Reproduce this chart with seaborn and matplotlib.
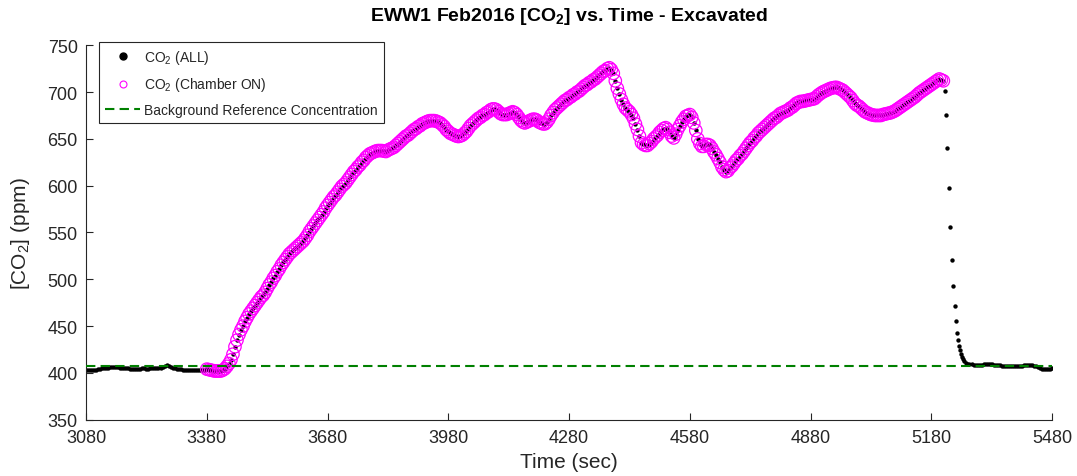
import matplotlib
matplotlib.use("Agg")
import matplotlib.pyplot as plt
import numpy as np
import pandas as pd
import seaborn as sns
from matplotlib.lines import Line2D

# ---- CO2 record (time in s, concentration in ppm) ----
# before the chamber is switched on (5 s samples from 3080 s)
pre_co2 = [403, 403, 403, 403, 403.5, 403.5, 404, 404.5, 405, 405,
           405.5, 405.5, 406, 406, 406, 406, 406, 405.5, 405.5, 405.5,
           405, 405, 404.5, 404.5, 404.5, 404.5, 404.5, 404.5, 405, 405,
           404.5, 404.5, 405, 405, 405, 405, 405.5, 405.5, 406.5, 407,
           408, 407.5, 406.5, 405.5, 405, 404.5, 404, 404, 403.5, 403.5,
           403.5, 403.5, 403, 403, 403, 403, 403, 403, 403.5, 403.5]

# chamber ON period (5 s samples from 3380 s)
on_co2 = [404, 403.5, 403, 402.5, 402, 402, 402, 402, 403, 404.5,
          407, 410, 414, 420, 428, 435, 441, 446, 450, 455,
          459, 463, 466, 469, 472, 475, 478, 481, 483, 486,
          490, 494, 497, 501, 504, 508, 511, 515, 518, 521,
          524, 527, 529, 531, 533, 535, 537, 539, 541, 544,
          547, 551, 554, 557, 560, 563, 566, 569, 572, 576,
          579, 582, 585, 588, 590, 593, 596, 599, 601, 603,
          606, 609, 612, 615, 617, 620, 622, 625, 627, 630,
          632, 634, 635, 636, 637, 637.5, 637.5, 637.5, 637, 636.5,
          638, 639, 640, 641, 643, 645, 647, 649, 651, 653,
          654, 656, 658, 660, 661, 663, 664, 666, 667, 668,
          669, 669.5, 669.5, 669.5, 669, 668, 667, 665, 663, 660,
          658, 656, 655, 654, 653, 652.5, 653, 654, 656, 658,
          661, 664, 666, 668, 670, 672, 673, 675, 676, 678,
          679, 681, 682, 682, 681, 679, 677, 676, 676, 676,
          677, 678, 679, 678, 676, 673, 670, 668, 667, 668,
          669, 670, 671, 671, 670, 668, 667, 666, 666, 668,
          671, 675, 678, 681, 683, 685, 687, 689, 691, 692,
          694, 695, 697, 698, 700, 701, 703, 705, 707, 708,
          710, 711, 713, 714, 716, 718, 720, 722, 723, 725,
          726, 724, 720, 712, 704, 698, 692, 687, 683, 681,
          679, 676, 672, 666, 660, 653, 646, 644, 643, 643,
          645, 647, 650, 652, 654, 657, 659, 661, 662, 660,
          657, 653, 651, 655, 660, 664, 668, 671, 674, 675,
          676, 673, 667, 659, 650, 645, 642, 642, 644, 644,
          643, 640, 636, 633, 629, 625, 620, 617, 615, 616,
          619, 621, 624, 627, 629, 632, 634, 637, 640, 643,
          646, 648, 651, 653, 656, 658, 660, 662, 664, 666,
          668, 670, 672, 673, 675, 677, 678, 679, 680, 681,
          683, 684, 686, 688, 689, 690, 690, 690.5, 691, 691.5,
          692, 692.5, 693, 695, 697, 698.5, 700, 701, 702, 703,
          704, 704.5, 705, 705, 704, 703, 702, 700, 698, 696,
          694, 691, 688, 686, 685, 683, 681, 679, 678, 677,
          676, 675.5, 675, 675, 675, 675, 676, 676.5, 677, 677.5,
          678, 679, 680, 681.5, 683, 684.5, 686, 687.5, 689, 690.5,
          692, 693.5, 695, 697, 699, 700.5, 702, 703.5, 705, 706.5,
          708, 709.5, 711, 712.5, 714, 713, 712]

# decay after the chamber is switched off
drop_time = [5213, 5216, 5220, 5223, 5227, 5231, 5234, 5238, 5241, 5245,
             5247, 5249, 5252, 5254, 5256, 5259, 5262, 5266, 5270, 5274]
drop_co2 = [701, 676, 640, 598, 556, 521, 493, 471, 455, 443,
            435, 429, 424, 420, 417, 415, 413, 411, 410, 409]

# back at background level (5 s samples from 5280 s)
post_co2 = [409, 408.5, 408.5, 408.5, 408.5, 408.5, 409, 409, 409.5, 409.5,
            409, 408.5, 408, 408, 408, 407.5, 407.5, 407.5, 407.5, 407,
            407, 407, 407, 407, 407.5, 407.5, 408, 408, 408.5, 408.5,
            408, 407.5, 407, 406, 405.5, 404.5, 404, 404, 404.5, 404.5,
            405]

pre_time = list(range(3080, 3080 + 5 * len(pre_co2), 5))
on_time = list(range(3380, 3380 + 5 * len(on_co2), 5))
post_time = list(range(5280, 5280 + 5 * len(post_co2), 5))

background_ppm = 407

x_ticks = [3080, 3380, 3680, 3980, 4280, 4580, 4880, 5180, 5480]
y_ticks = [350, 400, 450, 500, 550, 600, 650, 700, 750]

all_df = pd.DataFrame({
    "time": pre_time + on_time + drop_time + post_time,
    "co2": pre_co2 + on_co2 + drop_co2 + post_co2,
})
on_df = pd.DataFrame({"time": on_time, "co2": on_co2})

# ---- styling ----
sns.set_style("ticks")
plt.rcParams["font.family"] = ["Liberation Sans", "DejaVu Sans"]
plt.rcParams["mathtext.fontset"] = "custom"
plt.rcParams["mathtext.rm"] = "Liberation Sans"
plt.rcParams["mathtext.it"] = "Liberation Sans:italic"
plt.rcParams["mathtext.bf"] = "Liberation Sans:bold"

axis_col = "#262626"
magenta = "#ff00ff"
green = "#008000"
dash = (0, (4.5, 2.5))

fig, ax = plt.subplots(figsize=(10.77, 4.77), dpi=100)
fig.subplots_adjust(left=0.0799, right=0.9768, bottom=0.118, top=0.903)

sns.scatterplot(data=all_df, x="time", y="co2", color="black", s=10,
                linewidth=0, ax=ax, zorder=2, legend=False)
sns.scatterplot(data=on_df, x="time", y="co2", marker="o", s=80,
                linewidth=0.9, ax=ax, zorder=3, legend=False)
on_coll = ax.collections[-1]
on_coll.set_facecolor("none")
on_coll.set_edgecolor(magenta)

ax.axhline(background_ppm, color=green, lw=1.5, ls=dash, zorder=4)

ax.set_xlim(x_ticks[0], x_ticks[-1])
ax.set_ylim(y_ticks[0], y_ticks[-1])
ax.set_xticks(x_ticks)
ax.set_yticks(y_ticks)
ax.tick_params(direction="in", length=5, width=0.8, colors=axis_col,
               labelsize=13)
ax.tick_params(axis="x", pad=7)
ax.tick_params(axis="y", pad=6)
sns.despine(ax=ax)
for side in ("left", "bottom"):
    ax.spines[side].set_color(axis_col)
    ax.spines[side].set_linewidth(0.8)

ax.set_xlabel("Time (sec)", fontsize=15, color=axis_col, labelpad=4)
ax.set_ylabel("[CO$_2$] (ppm)", fontsize=15, color=axis_col, labelpad=11)
ax.set_title(r"EWW1 Feb2016 [CO$_\mathbf{2}$] vs. Time - Excavated",
             fontsize=14, fontweight="bold", color="black", pad=18)

handles = [
    Line2D([], [], marker="o", color="black", ls="none", markersize=5),
    Line2D([], [], marker="o", mfc="none", mec=magenta, mew=0.8, ls="none",
           markersize=5),
    Line2D([], [], color=green, lw=1.5, ls=dash),
]
labels = ["CO$_2$ (ALL)", "CO$_2$ (Chamber ON)",
          "Background Reference Concentration"]
leg = ax.legend(handles, labels, loc="upper left",
                bbox_to_anchor=(0.0135, 1.01), borderaxespad=0,
                fontsize=10, frameon=True, fancybox=False, framealpha=1,
                handlelength=2.5, handletextpad=0.3, labelspacing=0.7,
                borderpad=0.45)
leg.get_frame().set_edgecolor(axis_col)
leg.get_frame().set_linewidth(0.8)

fig.savefig("out.png", dpi=100)
